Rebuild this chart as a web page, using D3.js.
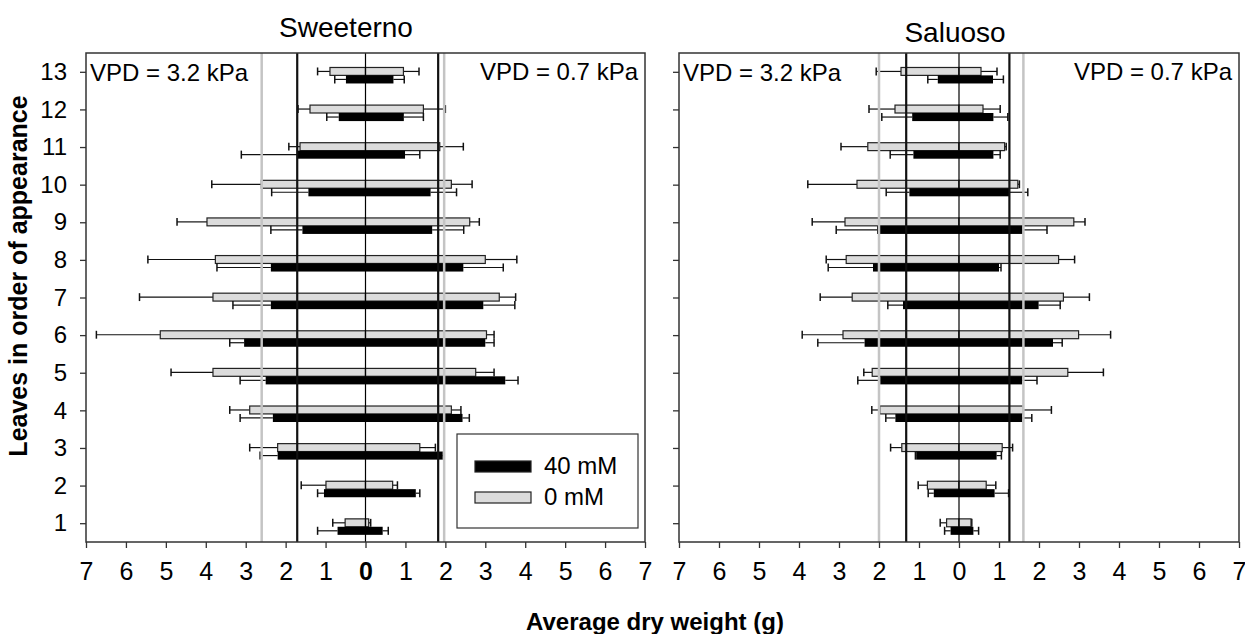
<!DOCTYPE html>
<html>
<head>
<meta charset="utf-8">
<script src="https://cdn.jsdelivr.net/npm/d3@7"></script>
<style>
body { margin: 0; background: #fff; }
text { font-family: Arial, "Liberation Sans", sans-serif; }
</style>
</head>
<body>
<div id="chart-area"></div>
<script>
// leaves and axis ticks
var leaves = d3.range(1, 14);
var xTicks = d3.range(-7, 8);

// Sweeterno, VPD = 3.2 kPa (drawn to the left)
var swHi0     = [0.51, 0.99, 2.20, 2.90, 3.82, 5.14, 3.82, 3.76, 3.97, 2.61, 1.64, 1.39, 0.89];
var swHi0Err  = [0.31, 0.62, 0.70, 0.50, 1.05, 1.60, 1.84, 1.69, 0.75, 1.24, 0.28, 0.30, 0.31];
var swHi40    = [0.70, 1.04, 2.20, 2.32, 2.50, 3.04, 2.37, 2.37, 1.58, 1.43, 1.70, 0.67, 0.49];
var swHi40Err = [0.50, 0.16, 0.44, 0.82, 0.64, 0.36, 0.95, 1.35, 0.79, 0.92, 1.41, 0.30, 0.28];
// Sweeterno, VPD = 0.7 kPa (drawn to the right)
var swLo0     = [0.08, 0.68, 1.36, 2.15, 2.76, 3.03, 3.35, 3.00, 2.61, 2.15, 1.86, 1.45, 0.95];
var swLo0Err  = [0.05, 0.12, 0.39, 0.24, 0.46, 0.19, 0.41, 0.79, 0.24, 0.52, 0.59, 0.55, 0.39];
var swLo40    = [0.43, 1.26, 1.93, 2.43, 3.50, 3.00, 2.95, 2.45, 1.67, 1.63, 0.99, 0.96, 0.70];
var swLo40Err = [0.14, 0.10, 0.02, 0.17, 0.32, 0.22, 0.79, 1.00, 0.79, 0.65, 0.37, 0.49, 0.27];
// Sweeterno reference lines
var swGrayRef  = [-2.60, 1.97];
var swBlackRef = [-1.71, 1.82];

// Saluoso, VPD = 3.2 kPa
var saHi0     = [0.31, 0.79, 1.43, 1.98, 2.17, 2.90, 2.67, 2.82, 2.85, 2.55, 2.28, 1.60, 1.45];
var saHi0Err  = [0.16, 0.23, 0.28, 0.20, 0.21, 1.02, 0.80, 0.50, 0.82, 1.23, 0.67, 0.65, 0.62];
var saHi40    = [0.21, 0.63, 1.07, 1.59, 1.97, 2.36, 1.40, 2.15, 2.05, 1.24, 1.14, 1.17, 0.53];
var saHi40Err = [0.15, 0.14, 0.02, 0.24, 0.56, 1.17, 0.38, 1.12, 1.02, 0.58, 0.58, 0.76, 0.25];
// Saluoso, VPD = 0.7 kPa
var saLo0     = [0.30, 0.68, 1.08, 1.61, 2.72, 2.99, 2.61, 2.49, 2.87, 1.47, 1.14, 0.60, 0.55];
var saLo0Err  = [0.02, 0.24, 0.26, 0.70, 0.89, 0.80, 0.65, 0.40, 0.28, 0.04, 0.04, 0.43, 0.40];
var saLo40    = [0.36, 0.89, 0.94, 1.58, 1.58, 2.35, 1.99, 1.00, 1.59, 1.26, 0.86, 0.86, 0.85];
var saLo40Err = [0.13, 0.35, 0.12, 0.24, 0.37, 0.23, 0.54, 0.05, 0.61, 0.46, 0.17, 0.36, 0.26];
// Saluoso reference lines
var saGrayRef  = [-2.00, 1.61];
var saBlackRef = [-1.32, 1.26];

var legendLabels = ["40 mM", "0 mM"];
var grayFill = "#dcdcdc";

var W = 1245, H = 634;
var plotTop = 53, plotBottom = 542;

var svg = d3.select("#chart-area")
	.append("svg")
		.attr("width", W)
		.attr("height", H);

var y = d3.scaleLinear()
	.domain([0.5, 13.5])
	.range([plotBottom, plotTop]);

var panels = [
	{name: "Sweeterno", left: 86, right: 645, titleX: 346, titleY: 37, labels: true,
	 hi0: swHi0, hi0Err: swHi0Err, hi40: swHi40, hi40Err: swHi40Err,
	 lo0: swLo0, lo0Err: swLo0Err, lo40: swLo40, lo40Err: swLo40Err,
	 grayRef: swGrayRef, blackRef: swBlackRef},
	{name: "Saluoso", left: 679, right: 1239, titleX: 955, titleY: 42, labels: false,
	 hi0: saHi0, hi0Err: saHi0Err, hi40: saHi40, hi40Err: saHi40Err,
	 lo0: saLo0, lo0Err: saLo0Err, lo40: saLo40, lo40Err: saLo40Err,
	 grayRef: saGrayRef, blackRef: saBlackRef}
];

panels.forEach(function(p) {
	var x = d3.scaleLinear()
		.domain([-7, 7])
		.range([p.left, p.right]);

	var g = svg.append("g");

	// series: sign gives the side, top/bot are offsets in leaf units
	var series = [
		{vals: p.hi0,  errs: p.hi0Err,  sign: -1, fill: grayFill, top: 0.115, bot: -0.095},
		{vals: p.lo0,  errs: p.lo0Err,  sign:  1, fill: grayFill, top: 0.115, bot: -0.095},
		{vals: p.hi40, errs: p.hi40Err, sign: -1, fill: "#000",   top: -0.095, bot: -0.31},
		{vals: p.lo40, errs: p.lo40Err, sign:  1, fill: "#000",   top: -0.095, bot: -0.31}
	];

	series.forEach(function(s) {
		var rows = leaves.map(function(leaf, i) {
			return {leaf: leaf, v: s.vals[i], e: s.errs[i]};
		});

		// error bars first, bars on top
		var eb = g.append("g");
		eb.selectAll("line.whisker")
			.data(rows)
			.enter()
			.append("line")
				.attr("x1", function(d) { return x(s.sign * d.v); })
				.attr("x2", function(d) { return x(s.sign * (d.v + d.e)); })
				.attr("y1", function(d) { return (y(d.leaf + s.top) + y(d.leaf + s.bot)) / 2; })
				.attr("y2", function(d) { return (y(d.leaf + s.top) + y(d.leaf + s.bot)) / 2; })
				.attr("stroke", "#111")
				.attr("stroke-width", 1.2);
		eb.selectAll("line.cap")
			.data(rows)
			.enter()
			.append("line")
				.attr("x1", function(d) { return x(s.sign * (d.v + d.e)); })
				.attr("x2", function(d) { return x(s.sign * (d.v + d.e)); })
				.attr("y1", function(d) { return y(d.leaf + s.top); })
				.attr("y2", function(d) { return y(d.leaf + s.bot); })
				.attr("stroke", "#111")
				.attr("stroke-width", 1.5);

		g.append("g").selectAll("rect")
			.data(rows)
			.enter()
			.append("rect")
				.attr("x", function(d) { return Math.min(x(0), x(s.sign * d.v)); })
				.attr("width", function(d) { return Math.abs(x(s.sign * d.v) - x(0)); })
				.attr("y", function(d) { return y(d.leaf + s.top); })
				.attr("height", function(d) { return y(d.leaf + s.bot) - y(d.leaf + s.top); })
				.attr("fill", s.fill)
				.attr("stroke", s.fill == grayFill ? "#222" : "none")
				.attr("stroke-width", 1.2);
	});

	// zero line
	g.append("line")
		.attr("x1", x(0)).attr("x2", x(0))
		.attr("y1", plotTop).attr("y2", plotBottom)
		.attr("stroke", "#000")
		.attr("stroke-width", 1.2);

	// reference lines
	p.grayRef.forEach(function(v) {
		g.append("line")
			.attr("x1", x(v)).attr("x2", x(v))
			.attr("y1", plotTop).attr("y2", plotBottom)
			.attr("stroke", "#c4c4c4")
			.attr("stroke-width", 2.5);
	});
	p.blackRef.forEach(function(v) {
		g.append("line")
			.attr("x1", x(v)).attr("x2", x(v))
			.attr("y1", plotTop).attr("y2", plotBottom)
			.attr("stroke", "#111")
			.attr("stroke-width", 2.2);
	});

	// frame
	g.append("rect")
		.attr("x", p.left).attr("y", plotTop)
		.attr("width", p.right - p.left)
		.attr("height", plotBottom - plotTop)
		.attr("fill", "none")
		.attr("stroke", "#333")
		.attr("stroke-width", 1.5);

	// axes
	var xAxis = d3.axisBottom(x)
		.tickValues(xTicks)
		.tickSize(6)
		.tickPadding(14)
		.tickFormat(function(d) { return Math.abs(d); });
	var xg = g.append("g")
		.attr("transform", "translate(0," + plotBottom + ")")
		.call(xAxis);
	xg.select(".domain").remove();
	xg.selectAll("line").attr("stroke", "#333").attr("stroke-width", 1.3);
	xg.selectAll("text")
		.attr("font-size", "25px")
		.attr("font-family", "Arial, 'Liberation Sans', sans-serif")
		.attr("fill", "#000")
		.attr("font-weight", function(d) { return (p.labels && d == 0) ? "bold" : "normal"; });

	var yAxis = d3.axisLeft(y)
		.tickValues(leaves)
		.tickSize(6)
		.tickPadding(13)
		.tickFormat(function(d) { return p.labels ? d : ""; });
	var yg = g.append("g")
		.attr("transform", "translate(" + p.left + ",0)")
		.call(yAxis);
	yg.select(".domain").remove();
	yg.selectAll("line").attr("stroke", "#333").attr("stroke-width", 1.3);
	yg.selectAll("text")
		.attr("font-size", "24px")
		.attr("font-family", "Arial, 'Liberation Sans', sans-serif")
		.attr("fill", "#000");

	// title and VPD labels
	g.append("text")
		.attr("x", p.titleX).attr("y", p.titleY)
		.attr("text-anchor", "middle")
		.attr("font-size", "28px")
		.text(p.name);
	g.append("text")
		.attr("x", p.left + 4).attr("y", 81)
		.attr("font-size", "24px")
		.text("VPD = 3.2 kPa");
	g.append("text")
		.attr("x", p.right - 7).attr("y", 80)
		.attr("text-anchor", "end")
		.attr("font-size", "24px")
		.text("VPD = 0.7 kPa");
});

// legend
var legend = svg.append("g").attr("transform", "translate(457,434)");
legend.append("rect")
	.attr("width", 181).attr("height", 94)
	.attr("fill", "#fff")
	.attr("stroke", "#333")
	.attr("stroke-width", 1.2);
legendLabels.forEach(function(lbl, i) {
	legend.append("rect")
		.attr("x", 18).attr("y", 27 + i * 31)
		.attr("width", 56).attr("height", 11)
		.attr("fill", i == 0 ? "#000" : grayFill)
		.attr("stroke", "#222")
		.attr("stroke-width", 1.2);
	legend.append("text")
		.attr("x", 87).attr("y", 40 + i * 31)
		.attr("font-size", "24px")
		.text(lbl);
});

// axis titles
svg.append("text")
	.attr("x", 655).attr("y", 630)
	.attr("text-anchor", "middle")
	.attr("font-size", "24px")
	.attr("font-weight", "bold")
	.text("Average dry weight (g)");
svg.append("text")
	.attr("transform", "translate(27,276) rotate(-90)")
	.attr("text-anchor", "middle")
	.attr("font-size", "25px")
	.attr("font-weight", "bold")
	.text("Leaves in order of appearance");
</script>
</body>
</html>
